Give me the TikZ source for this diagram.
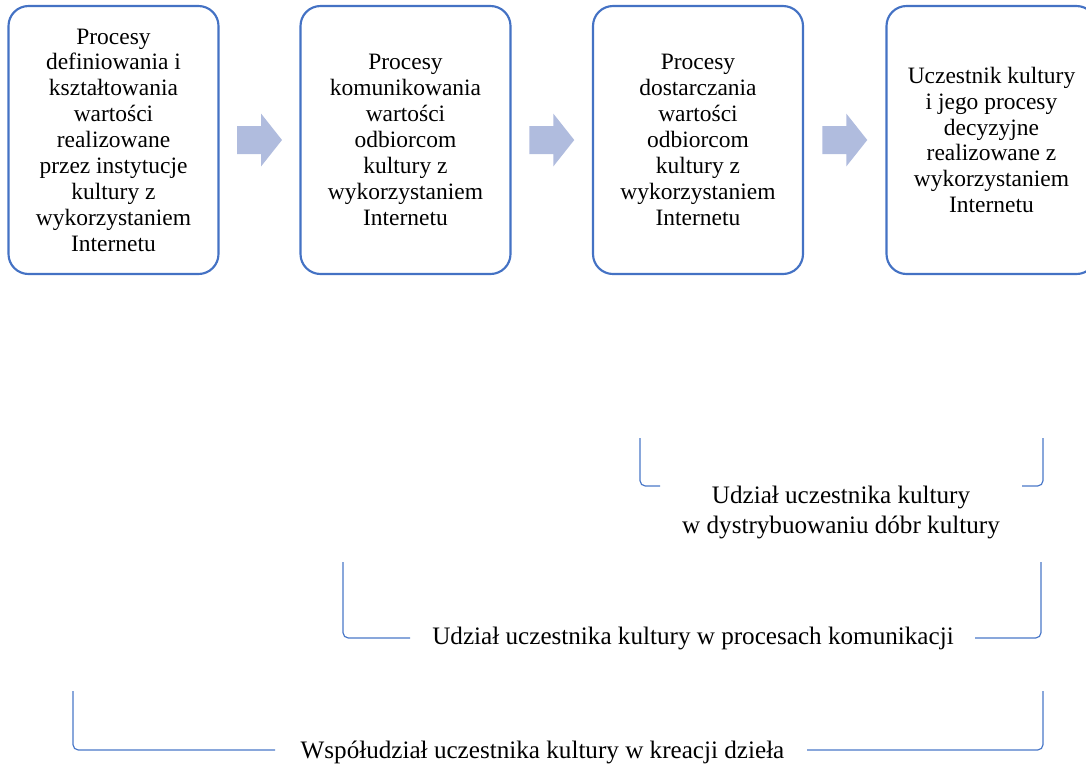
\documentclass[tikz,border=0pt]{standalone}
\usepackage{fontspec}
\setmainfont{Liberation Serif}
\usetikzlibrary{calc}
\definecolor{boxblue}{HTML}{4472C4}
\definecolor{bracketblue}{HTML}{4A78C8}
\definecolor{arrowfill}{HTML}{B0BCDE}
\begin{document}
\begin{tikzpicture}[x=0.75pt,y=-0.75pt,
  procbox/.style={draw=boxblue, line width=1.6pt, rounded corners=15pt, fill=white,
    minimum width=157.5pt, minimum height=201pt, align=center, inner sep=0pt,
    font=\fontsize{17.6}{19.4}\selectfont, text=black},
  note/.style={align=center, inner sep=0pt, font=\fontsize{18.85}{22.5}\selectfont},
  bracket/.style={draw=bracketblue, line width=0.9pt, rounded corners=4pt},
  blockarrow/.pic={\fill[arrowfill] (-22.5,-14) -- (1.5,-14) -- (1.5,-26.5) -- (22.5,0)
    -- (1.5,26.5) -- (1.5,14) -- (-22.5,14) -- cycle;}
]
\useasboundingbox (0,0) rectangle (1086,769);
\clip (0,0) rectangle (1086,769);

% process boxes
\node[procbox] (b1) at (113.5,140) {Procesy\\definiowania i\\kształtowania\\wartości\\realizowane\\przez instytucje\\kultury z\\wykorzystaniem\\Internetu};
\node[procbox] (b2) at (405.5,140) {Procesy\\komunikowania\\wartości\\odbiorcom\\kultury z\\wykorzystaniem\\Internetu};
\node[procbox] (b3) at (698,140) {Procesy\\dostarczania\\wartości\\odbiorcom\\kultury z\\wykorzystaniem\\Internetu};
\node[procbox] (b4) at (991.5,140) {Uczestnik kultury\\i jego procesy\\decyzyjne\\realizowane z\\wykorzystaniem\\Internetu};

% block arrows between the boxes
\pic (a1) at ($(b1.east)!0.5!(b2.west)$) {blockarrow};
\pic (a2) at ($(b2.east)!0.5!(b3.west)$) {blockarrow};
\pic (a3) at ($(b3.east)!0.5!(b4.west)$) {blockarrow};

% participation ranges
\node[note] (t1) at (841,512) {Udział uczestnika kultury\\w dystrybuowaniu dóbr kultury};
\coordinate (k1a) at (640,438); \coordinate (k1b) at (660,486);
\coordinate (k1c) at (1022,486); \coordinate (k1d) at (1043,438);
\draw[bracket] (k1b) -| (k1a);
\draw[bracket] (k1c) -| (k1d);

\node[note] (t2) at (693,638) {Udział uczestnika kultury w procesach komunikacji};
\coordinate (k2a) at (343,562); \coordinate (k2b) at (410,638);
\coordinate (k2c) at (975,638); \coordinate (k2d) at (1041,562);
\draw[bracket] (k2b) -| (k2a);
\draw[bracket] (k2c) -| (k2d);

\node[note] (t3) at (542.5,752) {Współudział uczestnika kultury w kreacji dzieła};
\coordinate (k3a) at (73,691); \coordinate (k3b) at (275,750);
\coordinate (k3c) at (807,750); \coordinate (k3d) at (1043,691);
\draw[bracket] (k3b) -| (k3a);
\draw[bracket] (k3c) -| (k3d);
\end{tikzpicture}
\end{document}
